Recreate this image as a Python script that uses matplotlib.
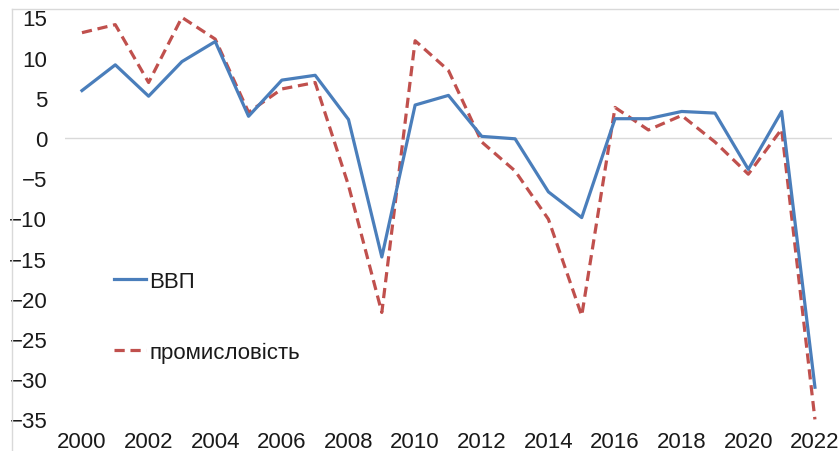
import numpy as np
import matplotlib.pyplot as plt
from matplotlib.lines import Line2D

plt.rcParams['font.family'] = ['Liberation Sans', 'DejaVu Sans']

# Annual growth, %
years = list(range(2000, 2023))
gdp = [5.9, 9.1, 5.2, 9.5, 12.0, 2.7, 7.2, 7.8, 2.3, -14.8, 4.1, 5.3,
       0.2, -0.1, -6.7, -9.9, 2.4, 2.4, 3.3, 3.1, -3.9, 3.3, -31.0]
industry = [13.1, 14.1, 6.9, 15.0, 12.3, 3.2, 6.1, 6.9, -5.9, -21.7, 12.1, 8.4,
            -0.5, -4.1, -10.1, -22.1, 3.8, 1.0, 2.8, -0.5, -4.5, 1.1, -35.0]
xticks = list(range(2000, 2023, 2))
yticks = list(range(-35, 16, 5))

W, H = 839, 452
fig = plt.figure(figsize=(W / 100, H / 100), dpi=100)
# plot area in pixels: left 65, right 832, top 18.4, bottom 420.4
ax = fig.add_axes([65.3 / W, (H - 420.4) / H, (831.6 - 65.3) / W, 402 / H])

blue = '#4a7ebb'
red = '#c0504d'
ax.axhline(0, color='#d9d9d9', lw=1.0, zorder=1)
ax.plot(years, gdp, color=blue, lw=2.3, label='ВВП', clip_on=False, zorder=3)
ax.plot(years, industry, color=red, lw=2.3, ls=(0, (3.2, 1.8)),
        label='промисловість', clip_on=False, zorder=2)

ax.set_xlim(1999.5, 2022.5)
ax.set_ylim(-35, 15)
ax.set_xticks(xticks)
ax.set_yticks(yticks)
for s in ax.spines.values():
    s.set_visible(False)
ax.tick_params(length=0, labelsize=16, colors='#1a1a1a')
ax.tick_params(axis='y', pad=13)
ax.tick_params(axis='x', pad=8)

ax.legend(loc='upper left', bbox_to_anchor=(114 / W, (H - 272) / H),
          bbox_transform=fig.transFigure, frameon=False, fontsize=16,
          handlelength=1.45, handletextpad=0.15, labelspacing=2.25,
          borderpad=0, borderaxespad=0, labelcolor='#1a1a1a')

# chart border (left and top edges visible)
fig.add_artist(Line2D([12 / W, 12 / W], [0, (H - 9.5) / H], color='#d9d9d9', lw=1))
fig.add_artist(Line2D([12 / W, 1], [(H - 9.5) / H] * 2, color='#d9d9d9', lw=1))

fig.savefig('out.png', dpi=100)
